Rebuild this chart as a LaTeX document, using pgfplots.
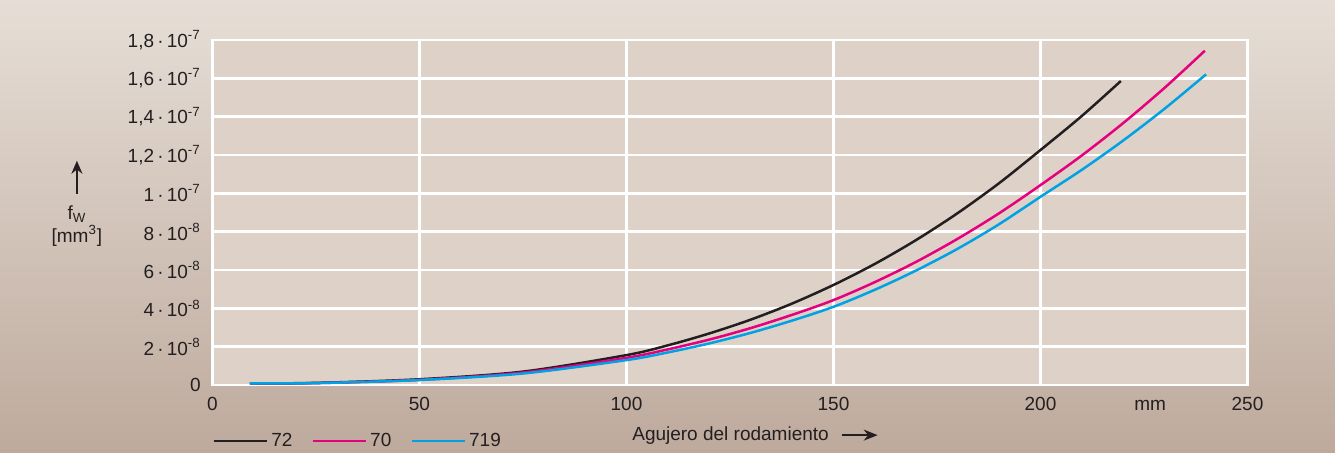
\documentclass[border=0pt]{standalone}
\usepackage{fontspec}
\setmainfont{Liberation Sans}
\usepackage{pgfplots}
\pgfplotsset{compat=1.18}
\usetikzlibrary{arrows.meta}

\definecolor{bgtop}{RGB}{230,222,214}
\definecolor{bgmid}{RGB}{215,202,192}
\definecolor{bgbot}{RGB}{190,170,157}
\definecolor{plotbg}{RGB}{222,210,200}
\definecolor{txt}{RGB}{35,31,32}
\definecolor{c72}{RGB}{35,31,32}
\definecolor{c70}{RGB}{230,0,126}
\definecolor{c719}{RGB}{0,162,227}

\newcommand{\fsz}{\fontsize{9.5}{11.5}\selectfont}

\begin{document}
\fsz
\begin{tikzpicture}
% background panel
\shade[top color=bgtop, middle color=bgmid, bottom color=bgbot] (0,0) rectangle (667.5pt,226pt);
\begin{axis}[
    at={(106.25pt,33.5pt)}, anchor=south west,
    scale only axis, width=517.5pt, height=172.5pt,
    xmin=0, xmax=250, ymin=0, ymax=1.8e-7,
    axis background/.style={fill=plotbg},
    axis line style={white, line width=1.2pt},
    grid=major,
    major grid style={white, line width=1.2pt},
    major tick length=0pt,
    xtick={0,50,100,150,200,250},
    extra x ticks={226.5}, extra x tick labels={\vphantom{0}mm},
    extra x tick style={grid=none},
    ytick={0,2e-8,4e-8,6e-8,8e-8,1e-7,1.2e-7,1.4e-7,1.6e-7,1.8e-7},
    yticklabels={{0},
      {2\,·\,10\textsuperscript{-8}}, {4\,·\,10\textsuperscript{-8}},
      {6\,·\,10\textsuperscript{-8}}, {8\,·\,10\textsuperscript{-8}},
      {1\,·\,10\textsuperscript{-7}}, {1,2\,·\,10\textsuperscript{-7}},
      {1,4\,·\,10\textsuperscript{-7}}, {1,6\,·\,10\textsuperscript{-7}},
      {1,8\,·\,10\textsuperscript{-7}}},
    scaled y ticks=false,
    /pgf/number format/assume math mode=true,
    tick label style={font=\fsz, text=txt},
    yticklabel style={xshift=-2.5pt},
    xticklabel style={yshift=-2.5pt},
    xlabel={Agujero del rodamiento\hspace{6pt}\tikz[baseline=-2.9pt]\draw[-{Stealth[length=7pt,width=5.5pt]},line width=0.9pt,txt](0,0)--(18pt,0);},
    xlabel style={at={(axis description cs:0.5246,0)}, anchor=center, yshift=-25.5pt, text=txt, font=\fsz},
    ylabel={\tikz\draw[-{Stealth[length=6.5pt,width=5.5pt]},line width=0.9pt,txt](0,0)--(0,16.5pt);\\[1pt]f\textsubscript{W}\\{[}mm\textsuperscript{3}{]}},
    ylabel style={rotate=-90, align=center, at={(axis description cs:-0.131,0.527)}, anchor=center, text=txt, font=\fsz},
    legend columns=3,
    legend image code/.code={\draw[#1, line width=1.4pt] (0pt,0pt) -- (26.5pt,0pt);},
    legend style={at={(axis description cs:0,-0.1623)}, anchor=west, draw=none, fill=none,
      inner sep=0pt, outer sep=0pt, font=\fsz, text=txt,
      nodes={inner sep=1.5pt},
      /tikz/every even column/.append style={column sep=8pt}},
]
\addplot[c72, line width=1.25pt, smooth] coordinates {
  (9,0.08e-8) (25,0.11e-8) (50,0.30e-8) (75,0.70e-8) (100,1.56e-8)
  (110,2.07e-8) (120,2.69e-8) (130,3.41e-8) (140,4.25e-8) (150,5.22e-8)
  (160,6.32e-8) (170,7.57e-8) (180,8.97e-8) (190,10.53e-8) (200,12.26e-8)
  (210,14.04e-8) (219.4,15.86e-8)
};
\addlegendentry{72}
\addplot[c70, line width=1.25pt, smooth] coordinates {
  (9,0.08e-8) (25,0.10e-8) (50,0.27e-8) (75,0.65e-8) (100,1.42e-8)
  (110,1.86e-8) (120,2.37e-8) (130,2.97e-8) (140,3.66e-8) (150,4.43e-8)
  (160,5.37e-8) (170,6.43e-8) (180,7.63e-8) (190,8.96e-8) (200,10.43e-8)
  (210,11.98e-8) (220,13.67e-8) (230,15.51e-8) (239.7,17.44e-8)
};
\addlegendentry{70}
\addplot[c719, line width=1.25pt, smooth] coordinates {
  (9,0.08e-8) (25,0.10e-8) (50,0.26e-8) (75,0.60e-8) (100,1.30e-8)
  (110,1.70e-8) (120,2.17e-8) (130,2.72e-8) (140,3.36e-8) (150,4.08e-8)
  (160,4.97e-8) (170,5.98e-8) (180,7.11e-8) (190,8.39e-8) (200,9.82e-8)
  (210,11.23e-8) (220,12.76e-8) (230,14.42e-8) (240,16.21e-8)
};
\addlegendentry{719}
\end{axis}
\pgfresetboundingbox
\path (0,0) rectangle (667.5pt,226pt);
\end{tikzpicture}
\end{document}
